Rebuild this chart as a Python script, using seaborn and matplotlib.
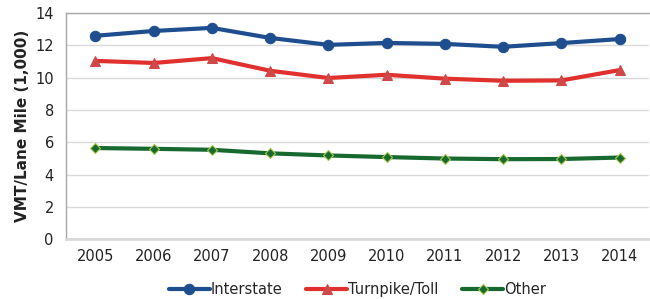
import seaborn as sns
import pandas as pd
import matplotlib.pyplot as plt

years = [2005, 2006, 2007, 2008, 2009, 2010, 2011, 2012, 2013, 2014]
interstate = [12.58, 12.88, 13.07, 12.45, 12.02, 12.14, 12.08, 11.90, 12.13, 12.38]
turnpike = [11.03, 10.90, 11.20, 10.42, 9.97, 10.17, 9.93, 9.80, 9.82, 10.46]
other = [5.64, 5.59, 5.53, 5.31, 5.18, 5.08, 4.99, 4.95, 4.96, 5.05]

df = pd.DataFrame({"year": [str(y) for y in years] * 3,
                   "value": interstate + turnpike + other,
                   "road": ["Interstate"] * 10 + ["Turnpike/Toll"] * 10 + ["Other"] * 10})

sns.set_theme(style="white")
plt.rcParams['font.family'] = ['DejaVu Sans']

fig, ax = plt.subplots(figsize=(6.5, 2.99), dpi=100)
fig.subplots_adjust(left=0.102, right=0.998, top=0.957, bottom=0.2)

colors = {"Interstate": "#1f4e8f", "Turnpike/Toll": "#e0312f", "Other": "#17692f"}
styles = {"Interstate": dict(marker="o", markersize=7.5, mfc="#1f4e8f", mec="#1f4e8f"),
          "Turnpike/Toll": dict(marker="^", markersize=7.5, mfc="#d04848", mec="#d04848"),
          "Other": dict(marker="D", markersize=5, mfc="#17692f", mec="#a8c84a", mew=0.8)}

for road in ["Interstate", "Turnpike/Toll", "Other"]:
    sub = df[df["road"] == road]
    sns.lineplot(data=sub, x="year", y="value", ax=ax, color=colors[road],
                 linewidth=3, label=road, sort=False, **styles[road])

ax.set_ylim(0, 14)
ax.set_yticks(range(0, 15, 2))
ax.set_xlim(-0.5, 9.5)
ax.yaxis.grid(True, color="#d9d9d9", linewidth=1)
ax.set_axisbelow(True)
for s in ax.spines.values():
    s.set_color("#a8a8a8")
    s.set_linewidth(1)
ax.spines["bottom"].set_color("#d9d9d9")
ax.spines["bottom"].set_linewidth(2)
ax.spines["right"].set_visible(False)
ax.tick_params(axis="both", labelsize=10.5, colors="#222222", length=0)
ax.tick_params(axis="x", pad=7)
ax.tick_params(axis="y", pad=9)
ax.set_xlabel("")
ax.set_ylabel("VMT/Lane Mile (1,000)", fontsize=11, fontweight="bold", color="#222222",
              labelpad=4)
ax.legend(loc="upper center", bbox_to_anchor=(0.5, -0.13), ncol=3, frameon=False,
          fontsize=10.5, handlelength=2.8, handletextpad=0.1, columnspacing=1.6)

fig.savefig("out.png", dpi=100)
